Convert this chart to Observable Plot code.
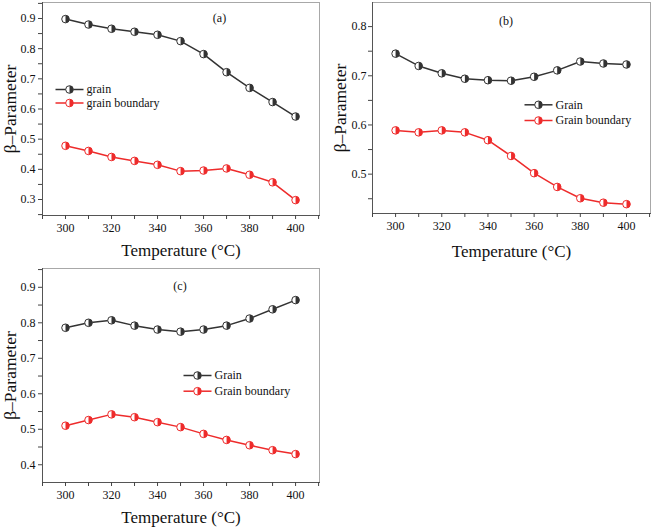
<!DOCTYPE html>
<html><head><meta charset="utf-8">
<script src="https://cdn.jsdelivr.net/npm/d3@7"></script>
<script src="https://cdn.jsdelivr.net/npm/@observablehq/plot@0.6"></script>
<style>
body{margin:0;background:#fff;}
#wrap{position:relative;width:651px;height:529px;background:#fff;}
.panel{position:absolute;}
</style></head><body><div id="wrap"></div>
<script>
// ---- data ----
const temperature = [300, 310, 320, 330, 340, 350, 360, 370, 380, 390, 400];

const grainA    = [0.898, 0.880, 0.866, 0.856, 0.846, 0.825, 0.782, 0.722, 0.670, 0.623, 0.575];
const boundaryA = [0.478, 0.461, 0.441, 0.428, 0.415, 0.394, 0.396, 0.403, 0.382, 0.357, 0.298];

const grainB    = [0.745, 0.720, 0.705, 0.694, 0.691, 0.690, 0.698, 0.711, 0.729, 0.725, 0.723];
const boundaryB = [0.589, 0.585, 0.589, 0.585, 0.569, 0.537, 0.502, 0.474, 0.451, 0.442, 0.439];

const grainC    = [0.786, 0.800, 0.807, 0.792, 0.781, 0.775, 0.781, 0.792, 0.812, 0.838, 0.864];
const boundaryC = [0.510, 0.526, 0.542, 0.534, 0.520, 0.506, 0.487, 0.470, 0.455, 0.441, 0.430];

const xTicks = [300, 320, 340, 360, 380, 400];
const xMinorTicks = [290, 310, 330, 350, 370, 390, 410];
const yTicksA = [0.3, 0.4, 0.5, 0.6, 0.7, 0.8, 0.9];
const yTicksB = [0.5, 0.6, 0.7, 0.8];
const yTicksC = [0.4, 0.5, 0.6, 0.7, 0.8, 0.9];

const panelLabels = ["(a)", "(b)", "(c)"];
const legendA = ["grain", "grain boundary"];
const legendBC = ["Grain", "Grain boundary"];
const xTitle = "Temperature (°C)";
const yTitle = "β–Parameter";

const GREY = "#333333", RED = "#ee2b2b";
const FONT = "'Liberation Serif', 'Times New Roman', serif";

// right half of a circle
const rightHalf = {draw(ctx, size) {
  const r = Math.sqrt(size / Math.PI);
  ctx.moveTo(0, -r);
  ctx.arc(0, 0, r, -Math.PI / 2, Math.PI / 2);
  ctx.closePath();
}};
// legend line segment
const segment = {draw(ctx) { ctx.moveTo(-14, 0); ctx.lineTo(14, 0); }};

function minorOf(ticks) {
  const out = [];
  ticks.forEach(v => { out.push(+(v - 0.05).toFixed(2)); out.push(+(v + 0.05).toFixed(2)); });
  return [...new Set(out)];
}

function panel(cfg) {
  const rows = (vals) => temperature.map((t, i) => ({t, v: vals[i]}));
  const series = [
    {data: rows(cfg.grain), color: GREY, name: cfg.legend[0]},
    {data: rows(cfg.boundary), color: RED, name: cfg.legend[1]}
  ];
  const marks = [
    Plot.frame({stroke: "#a8a8a8"}),
    Plot.frame({anchor: "left", stroke: "#555"}),
    Plot.frame({anchor: "bottom", stroke: "#555"}),
    Plot.axisX({ticks: xMinorTicks.filter(v => v >= cfg.xDomain[0] && v <= cfg.xDomain[1]), tickSize: 4, tickFormat: () => "", stroke: "#444", label: null}),
    Plot.axisX({ticks: xTicks, tickSize: 4, tickPadding: 4, fontSize: 12, stroke: "#444", fill: "#111", label: null}),
    Plot.axisY({ticks: minorOf(cfg.yTicks).filter(v => v > cfg.yDomain[0] && v < cfg.yDomain[1]), tickSize: 4, tickFormat: () => "", stroke: "#444", label: null}),
    Plot.axisY({ticks: cfg.yTicks, tickSize: 4, tickPadding: cfg.yPad, fontSize: 12, tickFormat: d3.format(".1f"), stroke: "#444", fill: "#111", label: null}),
    Plot.text([yTitle], {frameAnchor: "left", dx: -32, rotate: -90, fontSize: 17.5, textAnchor: "middle", lineAnchor: "middle", fill: "#111"}),
    Plot.text([xTitle], {frameAnchor: "bottom", dy: cfg.xTitleDy, fontSize: 17, textAnchor: "middle", lineAnchor: "middle", fill: "#111"}),
    Plot.text([cfg.label], {frameAnchor: "top-left", dx: cfg.labelPos[0], dy: cfg.labelPos[1], fontSize: 12, textAnchor: "middle", lineAnchor: "middle", fill: "#111"})
  ];
  series.forEach((s, k) => {
    marks.push(Plot.line(s.data, {x: "t", y: "v", stroke: s.color, strokeWidth: 1.5}));
    marks.push(Plot.dot(s.data, {x: "t", y: "v", r: 3.8, fill: "white", stroke: s.color, strokeWidth: 1}));
    marks.push(Plot.dot(s.data, {x: "t", y: "v", r: 3.8, symbol: rightHalf, fill: s.color}));
    const [lx, ly] = [cfg.legendPos[0], cfg.legendPos[1] + k * cfg.legendGap];
    marks.push(Plot.dot([0], {frameAnchor: "top-left", dx: lx, dy: ly, symbol: segment, r: 4, stroke: s.color, fill: "none", strokeWidth: 1.5}));
    marks.push(Plot.dot([0], {frameAnchor: "top-left", dx: lx, dy: ly, r: 3.8, fill: "white", stroke: s.color, strokeWidth: 1}));
    marks.push(Plot.dot([0], {frameAnchor: "top-left", dx: lx, dy: ly, r: 3.8, symbol: rightHalf, fill: s.color}));
    marks.push(Plot.text([s.name], {frameAnchor: "top-left", dx: lx + 17, dy: ly, fontSize: 12, textAnchor: "start", lineAnchor: "middle", fill: "#111"}));
  });
  const chart = Plot.plot({
    width: cfg.width, height: cfg.height,
    marginLeft: cfg.margin[3], marginRight: cfg.margin[1], marginTop: cfg.margin[0], marginBottom: cfg.margin[2],
    x: {domain: cfg.xDomain, axis: null},
    y: {domain: cfg.yDomain, axis: null},
    style: {fontFamily: FONT, fontSize: "12px", background: "white", color: "#222", overflow: "visible"},
    marks
  });
  const div = document.createElement("div");
  div.className = "panel";
  div.style.left = cfg.left + "px";
  div.style.top = cfg.top + "px";
  div.appendChild(chart);
  document.getElementById("wrap").appendChild(div);
}

panel({left: 0, top: 0, width: 325, height: 265, margin: [2, 6, 50, 42],
  xDomain: [290, 410.4], yDomain: [0.247, 0.953], yTicks: yTicksA, yPad: 3,
  grain: grainA, boundary: boundaryA, legend: legendA, label: panelLabels[0],
  labelPos: [177, 15.5], legendPos: [27, 87], legendGap: 13.5, xTitleDy: 35});

panel({left: 326, top: 0, width: 325, height: 265, margin: [2, 1, 52, 46],
  xDomain: [290, 410.4], yDomain: [0.42, 0.849], yTicks: yTicksB, yPad: 2,
  grain: grainB, boundary: boundaryB, legend: legendBC, label: panelLabels[1],
  labelPos: [133.5, 19], legendPos: [166, 102.3], legendGap: 15.7, xTitleDy: 38});

panel({left: 0, top: 264, width: 325, height: 265, margin: [4, 6, 47, 42],
  xDomain: [290, 410.4], yDomain: [0.35, 0.953], yTicks: yTicksC, yPad: 3,
  grain: grainC, boundary: boundaryC, legend: legendBC, label: panelLabels[2],
  labelPos: [137.5, 18], legendPos: [155, 107], legendGap: 15.7, xTitleDy: 35});
</script></body></html>
